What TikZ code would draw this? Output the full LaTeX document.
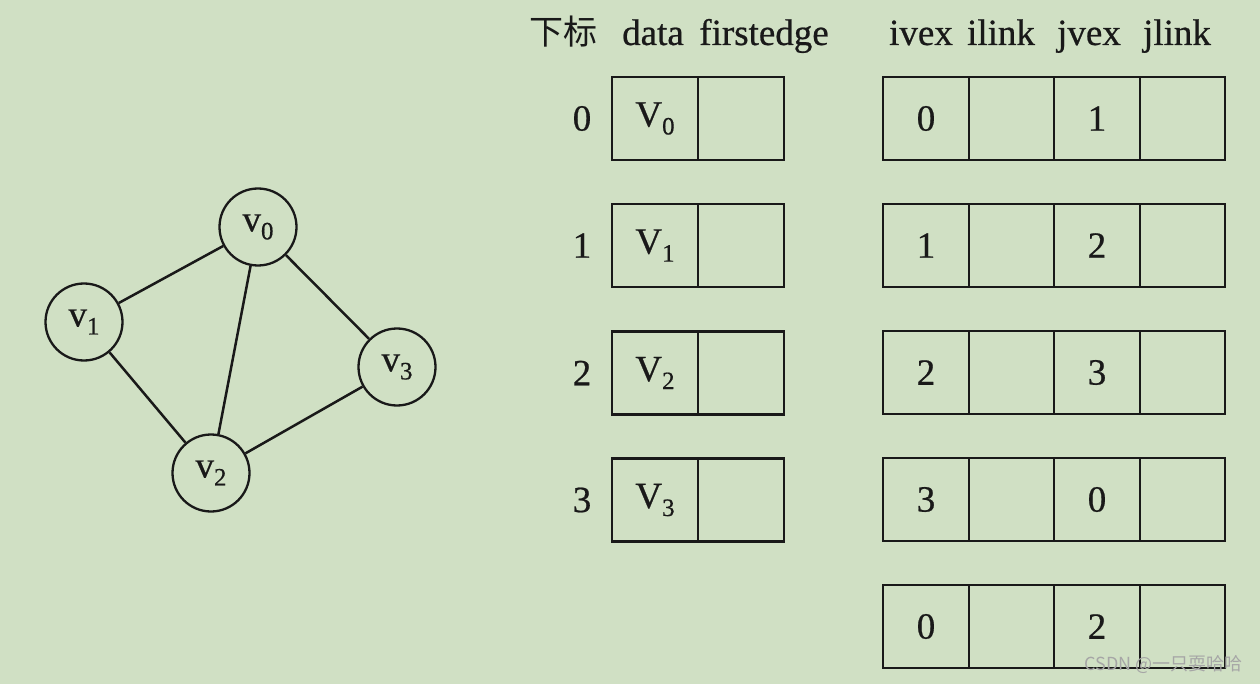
\documentclass[tikz,border=0pt]{standalone}
\usepackage{fontspec}
\setmainfont{Liberation Serif}[FakeBold=0.6]
\newfontfamily\cjk{Noto Sans CJK SC}
\definecolor{bgc}{RGB}{208,224,196}
\definecolor{ink}{RGB}{25,25,25}
\newcommand{\mysub}[1]{\raisebox{-8pt}{\fontsize{25}{25}\selectfont #1}}
\begin{document}
\begin{tikzpicture}[x=1pt,y=-1pt,
  every node/.style={font=\fontsize{37}{40}\selectfont, text=ink},
  cell/.style={draw=ink, line width=2.4pt, inner sep=0pt, minimum width=86pt, minimum height=83pt},
  vtx/.style={draw=ink, line width=2.3pt, circle, inner sep=0pt, minimum size=77pt},
  edge/.style={draw=ink, line width=2.5pt},
  hdr/.style={anchor=base}]
\fill[bgc] (0,0) rectangle (1260,684);
\useasboundingbox (0,0) rectangle (1260,684);
% headers
\node[hdr] (h1) at (563,45) {\cjk\fontsize{34}{36}\selectfont 下标};
\node[hdr] (h2) at (653,45) {data};
\node[hdr] (h3) at (764,45) {firstedge};
\node[hdr] (h4) at (921,45) {ivex};
\node[hdr] (h5) at (1001,45) {ilink};
\node[hdr] (h6) at (1089,45) {jvex};
\node[hdr] (h7) at (1177,45) {jlink};
% vertex table
\foreach \i/\y in {0/118.5,1/245.5,2/373,3/500}{
  \node (idx\i) at (582,\y) {\i};
  \node[cell] (vd\i) at (655,\y) {V\mysub{\i}};
  \node[cell] (vf\i) at (741,\y) {};
}
% edge table
\foreach \k/\y/\a/\b in {0/118.5/0/1,1/245.5/1/2,2/372.5/2/3,3/499.5/3/0,4/626.5/0/2}{
  \node[cell, minimum width=85.5pt] (ei\k) at (926,\y) {\a};
  \node[cell, minimum width=85.5pt] (el\k) at (1011.5,\y) {};
  \node[cell, minimum width=85.5pt] (ej\k) at (1097,\y) {\b};
  \node[cell, minimum width=85.5pt] (ek\k) at (1182.5,\y) {};
}
% graph
\node[vtx] (v0) at (258,227) {v\mysub{0}};
\node[vtx] (v1) at (84,322) {v\mysub{1}};
\node[vtx] (v2) at (211,473) {v\mysub{2}};
\node[vtx] (v3) at (397,367) {v\mysub{3}};
\draw[edge] (v0) -- (v1);
\draw[edge] (v0) -- (v2);
\draw[edge] (v0) -- (v3);
\draw[edge] (v1) -- (v2);
\draw[edge] (v2) -- (v3);
% watermark text
\node[anchor=base east, font=\cjk\fontsize{18}{20}\selectfont, text=white!30!gray] (wm) at (1246,670) {CSDN @一只耍哈哈};
\end{tikzpicture}
\end{document}
